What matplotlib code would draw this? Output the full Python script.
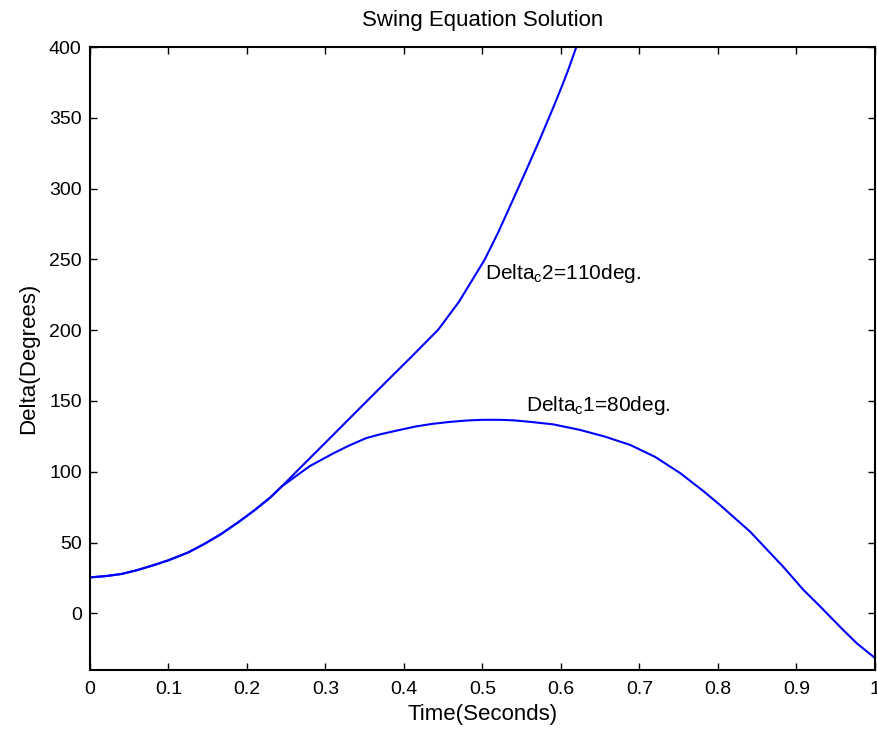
import matplotlib
matplotlib.use("Agg")
import matplotlib.pyplot as plt

plt.rcParams['font.family'] = ['Liberation Sans', 'DejaVu Sans']

# Delta_c1 = 80 deg (stable case)
t1 = [0.0, 0.02, 0.04, 0.06, 0.082, 0.1, 0.125, 0.145, 0.167, 0.19, 0.21,
      0.23, 0.244, 0.2675, 0.28, 0.31, 0.33, 0.352, 0.37, 0.395, 0.415,
      0.437, 0.46, 0.48, 0.5, 0.522, 0.54, 0.56, 0.59, 0.624, 0.655, 0.688,
      0.72, 0.752, 0.78, 0.8025, 0.82, 0.841, 0.86, 0.883, 0.909, 0.93,
      0.943, 0.96, 0.977, 1.0]
delta1 = [25.4, 26.3, 27.8, 30.5, 34.2, 37.5, 43.0, 48.8, 56.0, 64.8, 73.0,
          82.0, 89.5, 99.0, 104.0, 113.0, 118.5, 123.8, 126.5, 129.6, 132.0,
          133.9, 135.3, 136.2, 136.7, 136.7, 136.3, 135.3, 133.5, 129.6, 125.0,
          119.0, 110.5, 99.0, 87.0, 76.6, 68.0, 57.7, 46.5, 33.0, 16.5, 5.0,
          -2.4, -12.0, -21.2, -31.5]

# Delta_c2 = 110 deg (unstable case)
t2 = [0.0, 0.02, 0.04, 0.06, 0.082, 0.1, 0.125, 0.145, 0.167, 0.19, 0.21,
      0.23, 0.244, 0.27, 0.3, 0.327, 0.35, 0.3715, 0.41, 0.4437, 0.47,
      0.503, 0.52, 0.539, 0.555, 0.573, 0.59, 0.603, 0.61, 0.62, 0.63]
delta2 = [25.4, 26.3, 27.8, 30.5, 34.2, 37.5, 43.0, 48.8, 56.0, 64.8, 73.0,
          82.0, 89.5, 104.0, 120.6, 135.6, 148.4, 160.3, 181.5, 200.4, 220.0,
          250.0, 269.0, 292.3, 312.0, 334.7, 357.0, 374.8, 385.0, 400.7, 416.0]

xticks = [0, 0.1, 0.2, 0.3, 0.4, 0.5, 0.6, 0.7, 0.8, 0.9, 1.0]
xtick_labels = ['0', '0.1', '0.2', '0.3', '0.4', '0.5', '0.6', '0.7', '0.8', '0.9', '1']
yticks = [0, 50, 100, 150, 200, 250, 300, 350, 400]

fig = plt.figure(figsize=(8.78, 7.36), dpi=100)
ax = fig.add_axes([0.1025, 0.0897, 0.894, 0.8464])

ax.plot(t1, delta1, color='#0000ff', lw=1.5)
ax.plot(t2, delta2, color='#0000ff', lw=1.5)

ax.set_xlim(0, 1)
ax.set_ylim(-40, 400)
ax.set_xticks(xticks)
ax.set_xticklabels(xtick_labels)
ax.set_yticks(yticks)

ax.tick_params(direction='in', top=True, right=True, length=5, width=1,
               labelsize=14, color='black')
ax.tick_params(axis='x', pad=8)
ax.tick_params(axis='y', pad=6)
for s in ax.spines.values():
    s.set_linewidth(1.5)

ax.set_title('Swing Equation Solution', fontsize=16, pad=15)
ax.set_xlabel('Time(Seconds)', fontsize=16, labelpad=4)
ax.set_ylabel('Delta(Degrees)', fontsize=16, labelpad=7)

ax.text(0.503, 236, r'Delta$_\mathregular{c}$2=110deg.', fontsize=15, va='baseline')
ax.text(0.556, 142.6, r'Delta$_\mathregular{c}$1=80deg.', fontsize=15, va='baseline')

fig.savefig('out.png', dpi=100)
